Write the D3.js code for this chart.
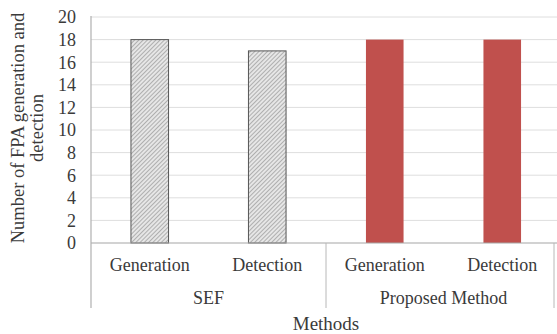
<!DOCTYPE html>
<html><head><meta charset="utf-8">
<script src="https://cdn.jsdelivr.net/npm/d3@7"></script>
<style>body{margin:0;background:#fff}</style>
</head><body><svg id="c" width="557" height="334"></svg>
<script>
const groups = ["SEF", "Proposed Method"];
const subCategories = ["Generation", "Detection"];
const sefValues = [18, 17];
const proposedValues = [18, 18];
const yTicks = [0, 2, 4, 6, 8, 10, 12, 14, 16, 18, 20];
const yTitle = ["Number of FPA generation and", "detection"];
const xTitle = "Methods";

(function () {
const FONT = "'Liberation Serif', 'Times New Roman', Tinos, 'DejaVu Serif', serif";
const data = [];
groups.forEach((g, gi) => subCategories.forEach((s, si) => {
  data.push({group: g, sub: s, key: g + "|" + s, value: gi === 0 ? sefValues[si] : proposedValues[si], gi});
}));

const svg = d3.select("#c").attr("font-family", FONT);
const W = 557;
const mL = 91, mR = 561, mT = 17, mB = 243;
const x = d3.scaleBand().domain(data.map(d => d.key)).range([mL, mR]).padding(0);
const y = d3.scaleLinear().domain([0, 20]).range([mB, mT]);
const txt = sel => sel.attr("font-family", FONT).attr("fill", "#3a3a3a");

const defs = svg.append("defs");
const pat = defs.append("pattern").attr("id", "hatch").attr("patternUnits", "userSpaceOnUse")
  .attr("width", 3).attr("height", 3).attr("patternTransform", "rotate(45)");
pat.append("rect").attr("width", 3).attr("height", 3).attr("fill", "#e6e6e6");
pat.append("line").attr("x1", 0).attr("y1", 0).attr("x2", 0).attr("y2", 3).attr("stroke", "#8a8a8a").attr("stroke-width", 1.2);

svg.append("g").selectAll("line").data(yTicks.filter(t => t > 0)).join("line")
  .attr("x1", mL).attr("x2", W).attr("y1", d => y(d)).attr("y2", d => y(d))
  .attr("stroke", "#dedede").attr("stroke-width", 1);

svg.append("g").selectAll("text").data(yTicks).join("text").call(txt)
  .attr("x", 76).attr("y", d => y(d)).attr("dy", "0.35em").attr("text-anchor", "end")
  .attr("font-size", 18).text(d => d);

const bw = x.bandwidth() * 0.32;
svg.append("g").selectAll("rect").data(data).join("rect")
  .attr("x", d => x(d.key) + x.bandwidth() / 2 - bw / 2)
  .attr("y", d => y(d.value))
  .attr("width", bw).attr("height", d => y(0) - y(d.value))
  .attr("fill", d => d.gi === 0 ? "url(#hatch)" : "#c0504d")
  .attr("stroke", d => d.gi === 0 ? "#555" : "none").attr("stroke-width", 1);

svg.append("line").attr("x1", mL).attr("x2", W).attr("y1", mB).attr("y2", mB).attr("stroke", "#a6a6a6").attr("stroke-width", 1.2);
svg.append("line").attr("x1", mL).attr("x2", mL).attr("y1", mT - 1).attr("y2", 308).attr("stroke", "#b0b0b0").attr("stroke-width", 1.2);
const divs = groups.map((g) => x(g + "|" + subCategories[subCategories.length - 1]) + x.bandwidth());
svg.append("g").selectAll("line").data(divs).join("line")
  .attr("x1", d => Math.min(d, W - 3)).attr("x2", d => Math.min(d, W - 3))
  .attr("y1", mB).attr("y2", 308).attr("stroke", "#b8b8b8").attr("stroke-width", 1);

svg.append("g").selectAll("text").data(data).join("text").call(txt)
  .attr("x", d => x(d.key) + x.bandwidth() / 2).attr("y", 271).attr("text-anchor", "middle")
  .attr("font-size", 18).text(d => d.sub);

svg.append("g").selectAll("text").data(groups).join("text").call(txt)
  .attr("x", (g) => (x(g + "|" + subCategories[0]) + x(g + "|" + subCategories[1]) + x.bandwidth()) / 2)
  .attr("y", 304).attr("text-anchor", "middle").attr("font-size", 18).text(d => d);

svg.append("text").call(txt).attr("x", (mL + mR) / 2).attr("y", 330).attr("text-anchor", "middle")
  .attr("font-size", 19).text(xTitle);

const yt = svg.append("text").call(txt).attr("transform", "translate(0,128) rotate(-90)").attr("text-anchor", "middle").attr("font-size", 18.5);
yt.append("tspan").attr("x", 0).attr("y", 24).text(yTitle[0]);
yt.append("tspan").attr("x", 0).attr("y", 43).text(yTitle[1]);
})();
</script></body></html>
